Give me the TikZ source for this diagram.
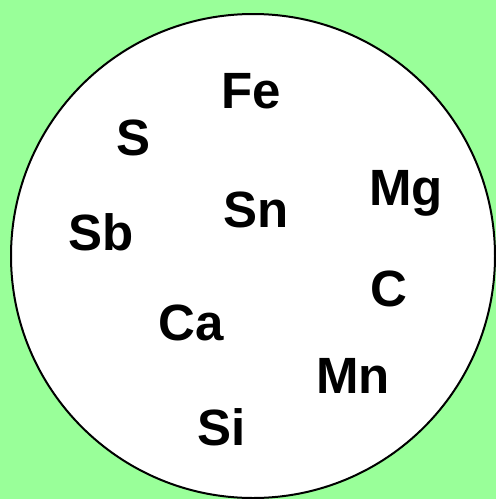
\documentclass[tikz,border=0pt]{standalone}
\usepackage{fontspec}
\setmainfont{Liberation Sans}
\usepackage{tikz}
\definecolor{bggreen}{RGB}{153,255,153}

\begin{document}
\begin{tikzpicture}[x=1pt,y=-1pt,
  elem/.style={anchor=base,inner sep=0pt,font=\fontsize{51}{60}\selectfont\bfseries}]
\fill[bggreen] (0,0) rectangle (496,499);
\useasboundingbox (0,0) rectangle (496,499);
\draw[line width=2pt, fill=white] (253,256) circle (242);
\node[elem] (fe) at (251,108) {Fe};
\node[elem] (s)  at (134,155) {S};
\node[elem] (sb) at (101,250) {Sb};
\node[elem] (sn) at (256,227) {Sn};
\node[elem] (mg) at (406,205) {Mg};
\node[elem] (c)  at (389,306) {C};
\node[elem] (ca) at (191,340) {Ca};
\node[elem] (mn) at (353,393) {Mn};
\node[elem] (si) at (222,445) {Si};
\end{tikzpicture}
\end{document}
